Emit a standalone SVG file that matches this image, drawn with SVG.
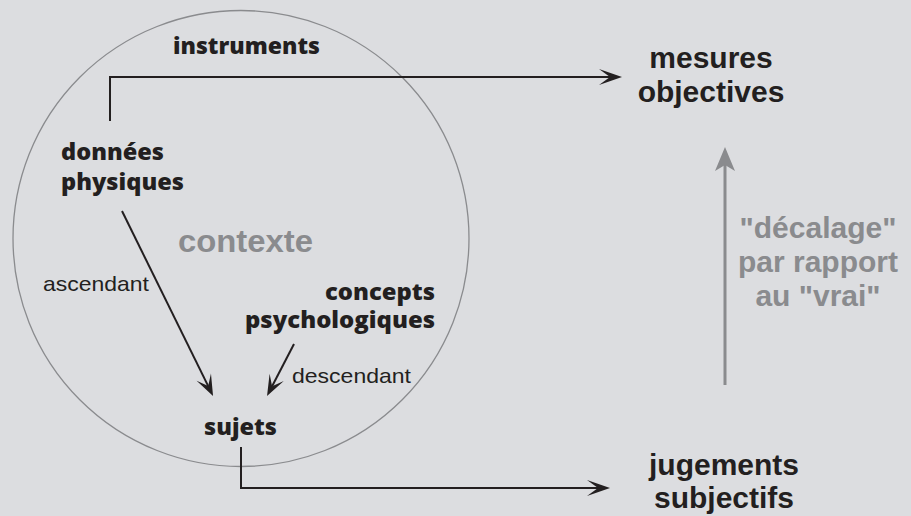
<svg xmlns="http://www.w3.org/2000/svg" width="911" height="516" viewBox="0 0 911 516">
<style>
.bg{fill:#dcdde0}
.ctx{fill:none;stroke:#8a8b8e;stroke-width:1.3}
.ln{fill:none;stroke:#231f20;stroke-width:2}
.gln{fill:none;stroke:#8a8b8e;stroke-width:3}
.lb{font-family:"Open Sans","Liberation Sans",sans-serif;font-weight:800;font-size:23px;fill:#231f20}
.lr{font-family:"Liberation Sans",Arial,sans-serif;font-size:21px;fill:#231f20}
.rb{font-family:"Liberation Sans",Arial,sans-serif;font-weight:700;font-size:30px;fill:#231f20;text-anchor:middle}
.gt{font-family:"Liberation Sans",Arial,sans-serif;font-weight:700;font-size:30px;fill:#8a8b8e;text-anchor:middle}
.cx{font-family:"Liberation Sans",Arial,sans-serif;font-weight:700;font-size:32px;fill:#8a8b8e}
</style>
<defs>
<marker id="ah" viewBox="-24 -10 26 20" markerWidth="26" markerHeight="20" refX="-12" refY="0" orient="auto" markerUnits="userSpaceOnUse">
<path d="M0,0 L-23,-8 L-12,0 L-23,8 Z" fill="#231f20"/>
</marker>
<marker id="ahs" viewBox="-24 -10 26 20" markerWidth="26" markerHeight="20" refX="-11" refY="0" orient="auto" markerUnits="userSpaceOnUse">
<path d="M0,0 L-21,-8 L-11,0 L-21,8 Z" fill="#231f20"/>
</marker>
<marker id="ahg" viewBox="-26 -12 28 24" markerWidth="28" markerHeight="24" refX="-18" refY="0" orient="auto" markerUnits="userSpaceOnUse">
<path d="M0,0 L-24,-10 L-18,0 L-24,10 Z" fill="#8a8b8e"/>
</marker>
</defs>
<rect class="bg" x="0" y="0" width="911" height="516"/>
<g id="contexte">
<circle class="ctx" cx="241" cy="238.5" r="228"/>
<text class="cx" x="178" y="252" textLength="135" lengthAdjust="spacingAndGlyphs">contexte</text>
</g>
<g id="connectors">
<path class="ln" d="M110,121 V77 H610" marker-end="url(#ah)"/>
<path class="ln" d="M241,447 V488 H598" marker-end="url(#ah)"/>
<path class="ln" d="M122,211 L208.2,386.1" marker-end="url(#ahs)"/>
<path class="ln" d="M294,344 L272.1,386.2" marker-end="url(#ahs)"/>
<path class="gln" d="M725,385 V165" marker-end="url(#ahg)"/>
</g>
<g id="instruments">
<text class="lb" x="173" y="54" textLength="147" lengthAdjust="spacingAndGlyphs">instruments</text>
</g>
<g id="donnees-physiques">
<text class="lb" x="61" y="160" textLength="103" lengthAdjust="spacingAndGlyphs">données</text>
<text class="lb" x="61" y="190" textLength="123" lengthAdjust="spacingAndGlyphs">physiques</text>
</g>
<g id="ascendant">
<text class="lr" x="43" y="291" textLength="106" lengthAdjust="spacingAndGlyphs">ascendant</text>
</g>
<g id="concepts-psychologiques">
<text class="lb" x="325" y="300" textLength="110" lengthAdjust="spacingAndGlyphs">concepts</text>
<text class="lb" x="245" y="328" textLength="190" lengthAdjust="spacingAndGlyphs">psychologiques</text>
</g>
<g id="descendant">
<text class="lr" x="292" y="383" textLength="119" lengthAdjust="spacingAndGlyphs">descendant</text>
</g>
<g id="sujets">
<text class="lb" x="204" y="435" textLength="73" lengthAdjust="spacingAndGlyphs">sujets</text>
</g>
<g id="mesures-objectives">
<text class="rb" x="711" y="68">mesures</text>
<text class="rb" x="711" y="102">objectives</text>
</g>
<g id="jugements-subjectifs">
<text class="rb" x="724" y="475">jugements</text>
<text class="rb" x="724" y="508">subjectifs</text>
</g>
<g id="decalage">
<text class="gt" x="818" y="238">"décalage"</text>
<text class="gt" x="818" y="272">par rapport</text>
<text class="gt" x="818" y="306">au "vrai"</text>
</g>
</svg>
